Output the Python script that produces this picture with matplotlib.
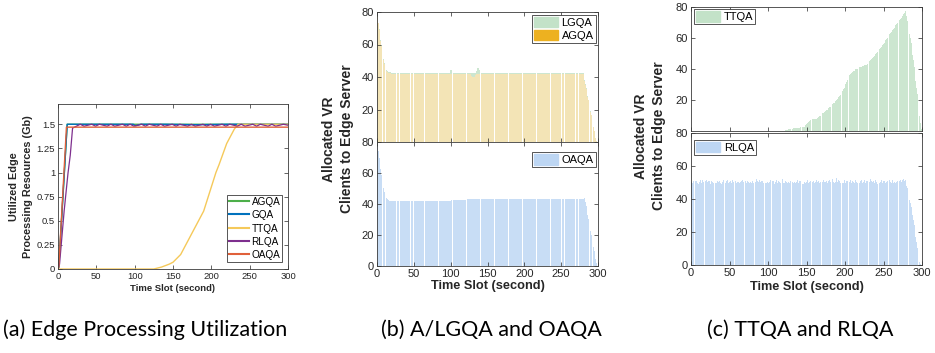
import numpy as np
import matplotlib
matplotlib.use("agg")
import matplotlib.pyplot as plt
from matplotlib.patches import Patch
from matplotlib.lines import Line2D

plt.rcParams["font.family"] = ["Liberation Sans", "DejaVu Sans"]

W, H = 935, 353
TXT = "#262626"
SPINE = "#3a3a3a"

# ---------------- panel (a): utilized edge processing resources ----------------
t_agqa_a = [0, 1, 12, 300]
v_agqa_a = [0, 0.02, 1.5, 1.5]

t_gqa_a = [0, 1, 12, 40, 80, 98, 101, 104, 108, 140, 180, 220, 260, 300]
v_gqa_a = [0, 0.02, 1.5, 1.5, 1.5, 1.5, 1.485, 1.49, 1.5, 1.5, 1.495, 1.5, 1.5, 1.5]

t_ttqa_a = [0, 125, 135, 145, 150, 160, 170, 180, 190, 200, 206, 210, 220, 230, 235, 300]
v_ttqa_a = [0, 0, 0.02, 0.05, 0.07, 0.15, 0.3, 0.45, 0.6, 0.85, 1.0, 1.08, 1.3, 1.45, 1.5, 1.5]

t_rlqa_a = [0, 2, 8, 13, 16, 19,
            24, 29, 34, 39, 44, 49, 54, 59, 64, 69, 74, 79, 84, 89, 94, 99,
            104, 109, 114, 119, 124, 129, 134, 139, 144, 149, 154, 159, 164, 169,
            174, 179, 184, 189, 194, 199, 204, 209, 214, 219, 224, 229, 234, 239,
            244, 249, 254, 259, 264, 269, 274, 279, 284, 289, 294, 300]
v_rlqa_a = [0, 0.05, 0.6, 0.99, 1.18, 1.46,
            1.48, 1.5, 1.48, 1.49, 1.5, 1.48, 1.5, 1.49, 1.48, 1.5, 1.48, 1.49, 1.5, 1.48, 1.5, 1.48,
            1.49, 1.5, 1.48, 1.5, 1.49, 1.48, 1.5, 1.48, 1.49, 1.5, 1.48, 1.5, 1.49, 1.48,
            1.5, 1.48, 1.49, 1.5, 1.48, 1.5, 1.48, 1.49, 1.5, 1.48, 1.5, 1.49, 1.48, 1.5,
            1.48, 1.49, 1.5, 1.48, 1.5, 1.49, 1.48, 1.5, 1.48, 1.49, 1.5, 1.49]

t_oaqa_a = [0, 1, 11, 300]
v_oaqa_a = [0, 0.02, 1.47, 1.47]

# ---------------- panels (b), (c): allocated clients per time slot ----------------
slots = np.arange(1, 301)

agqa_head = [77, 73, 69, 65, 62, 59, 56, 53, 50.5, 48, 46.5, 45, 44, 43.3, 42.8,
             42.5, 42.3, 42.2, 42.1, 42]
agqa_tail = [39.8, 37.4, 35.1, 32.6, 30.4, 28.0, 25.8, 23.3, 21.1, 18.6,
             16.4, 14.0, 11.6, 9.4, 7.0, 4.8, 2.4, 0.6, 0.0, 0.0]
agqa_vals = agqa_head + [42] * 107 + [40.5, 40, 39.8, 40, 40.2, 40.5, 41] + [42] * 146 + agqa_tail

lgqa_head = [77.5, 73.5, 69.5, 65.5, 62.5, 59.5, 56.5, 53.5, 51, 48.5, 47, 45.5, 44.5, 43.8, 43.3,
             43.1, 42.9, 42.8, 42.7, 42.7]
lgqa_tail = [40.4, 38.0, 35.6, 33.2, 30.8, 28.4, 26.0, 23.6, 21.2, 18.8,
             16.4, 14.0, 11.6, 9.2, 6.8, 4.4, 2.0, 0.5, 0.0, 0.0]
lgqa_vals = (lgqa_head + [42.7] * 78 + [43.5, 44.5, 44.6, 44.2, 43.4] + [42.7] * 31
             + [44.0, 45.5, 46.3, 45.8, 44.6, 43.3] + [42.7] * 140 + lgqa_tail)

oaqa_head = [78, 74, 70, 66, 62.5, 59, 56, 53, 50.5, 48, 46.5, 45, 44, 43.2, 42.7,
             42.4, 42.2, 42.1, 42, 42]
oaqa_tail = [41.0, 38.4, 35.8, 33.2, 30.6, 28.0, 25.4, 22.8, 20.2, 17.6,
             15.0, 12.4, 9.8, 7.2, 4.6, 2.0, 0.3, 0.0]
oaqa_vals = (oaqa_head + [42] * 80 + [42.6] * 20 + [43] * 25 + [43.4] * 20 + [43] * 35
             + [43.2] * 80 + [43.5, 43.7] + oaqa_tail)

ttqa_vals = [0] * 120 + [
    0.2, 0.3, 0.4, 0.5, 0.6, 0.8, 1.0, 1.1, 1.3, 1.4, 1.5, 1.6, 1.7, 1.8, 1.9, 2.0, 2.0, 2.1, 2.1, 2.2,
    2.2, 2.3, 2.3, 2.4, 2.5, 2.6, 2.8, 3.2, 3.8, 4.4, 5.0, 5.5, 6.0, 6.4, 6.8, 7.1, 7.3, 7.5, 7.6, 7.7,
    7.8, 7.9, 8.0, 8.3, 8.7, 9.1, 9.5, 10.0, 10.4, 10.8, 11.3, 11.7, 12.1, 12.6, 13.0, 13.3, 13.8, 14.3, 14.8, 15.3,
    15.8, 16.3, 16.8, 17.3, 17.8, 18.3, 18.8, 19.3, 19.8, 20.4, 21.0, 21.7, 22.4, 23.1, 23.8, 24.5, 25.6, 26.8, 28.0, 29.2,
    30.4, 31.6, 32.8, 34.0, 35.0, 35.9, 36.7, 37.4, 37.9, 38.3, 38.6, 39.0, 39.4, 39.7, 40.0, 40.3, 40.6, 40.8, 41.0, 41.3,
    41.5, 41.7, 41.9, 42.1, 42.3, 42.5, 42.7, 42.9, 43.4, 43.9, 44.4, 45.0, 45.6, 46.2, 46.8, 47.3, 47.7, 48.4, 49.0, 49.7,
    50.4, 51.0, 51.7, 52.4, 53.0, 53.7, 54.3, 55.0, 55.6, 56.3, 57.0, 57.8, 58.5, 59.2, 60.0, 60.8, 61.6, 62.4, 63.2, 64.0,
    64.8, 65.4, 66.0, 66.7, 67.4, 68.1, 68.8, 69.5, 70.2, 70.8, 71.4, 72.0, 72.8, 73.6, 74.4, 75.2, 76.0, 76.6, 77.2, 74.0,
    71.0, 68.0, 65.0, 62.5, 60.0, 56.5, 52.5, 49.0, 45.5, 41.5, 37.0, 32.5, 28.0, 24.0, 19.5, 14.5, 9.5, 5.0, 1.0, 0.0]

rlqa_vals = [
    50.5, 49.8, 51.2, 50.1, 49.5, 50.8, 51.0, 49.9, 50.3, 49.2, 50.6, 51.4, 50.0, 49.7, 51.6, 50.2, 51.1, 49.6, 50.9, 51.3,
    50.4, 49.9, 51.0, 50.7, 49.3, 50.5, 51.2, 50.1, 49.8, 50.6, 51.5, 50.0, 49.4, 50.8, 49.9, 50.3, 51.1, 49.6, 50.2, 49.0,
    50.6, 51.3, 49.8, 50.1, 49.5, 50.9, 51.7, 50.2, 49.7, 50.4, 51.2, 50.0, 49.6, 51.5, 50.3, 49.9, 50.7, 51.0, 49.4, 50.5,
    51.1, 50.2, 49.8, 50.6, 49.3, 50.9, 51.4, 50.1, 49.7, 50.3, 51.0, 49.5, 50.8, 51.9, 50.2, 49.6, 50.4, 51.2, 49.9, 50.7,
    50.0, 51.3, 49.6, 50.5, 52.0, 50.8, 49.7, 50.2, 51.6, 50.1, 49.4, 50.9, 51.1, 49.8, 50.3, 51.8, 50.0, 49.5, 50.6, 51.0,
    49.9, 50.4, 51.5, 50.2, 49.6, 50.8, 51.2, 49.3, 50.7, 50.1, 51.4, 49.8, 50.5, 51.0, 50.2, 49.7, 51.3, 50.6, 52.1, 50.0,
    49.5, 50.9, 51.2, 50.3, 49.8, 51.6, 50.1, 49.4, 50.7, 51.0, 52.3, 50.4, 49.9, 50.6, 51.3, 49.7, 50.2, 51.8, 50.5, 49.6,
    50.8, 51.1, 49.9, 50.3, 48.8, 49.2, 50.5, 51.0, 49.6, 50.2, 51.4, 50.7, 49.5, 50.1, 50.9, 49.8, 48.9, 50.4, 51.2, 50.0,
    49.7, 50.6, 51.3, 50.2, 49.5, 50.8, 49.9, 50.3, 51.0, 49.6, 50.5, 51.7, 50.1, 49.8, 50.6, 51.2, 50.0, 49.4, 50.9, 51.5,
    50.3, 49.7, 50.8, 52.4, 50.1, 49.6, 51.0, 50.5, 52.6, 50.2, 49.8, 51.3, 50.7, 49.5, 50.4, 51.1, 50.0, 49.9, 51.6, 50.3,
    49.6, 50.9, 51.2, 50.1, 49.7, 50.5, 51.4, 49.8, 50.3, 51.0, 50.6, 49.4, 50.8, 51.5, 50.2, 49.9, 50.4, 51.1, 49.6, 50.7,
    51.3, 50.0, 49.5, 50.6, 51.8, 50.2, 49.8, 50.9, 51.2, 50.1, 49.7, 50.4, 52.2, 50.8, 49.6, 50.3, 51.0, 49.9, 50.5, 51.4,
    50.1, 49.3, 50.7, 51.1, 49.8, 50.4, 51.6, 50.0, 49.5, 50.9, 51.2, 50.3, 49.7, 50.6, 51.0, 49.9, 50.2, 51.5, 50.1, 49.6,
    50.8, 51.3, 49.7, 50.4, 51.0, 49.8, 50.5, 51.2, 50.0, 49.6, 50.9, 51.4, 50.2, 49.8, 51.7, 52.3, 51.0, 52.8, 51.5, 48.0,
    46.5, 44.0, 41.2, 39.5, 37.3, 35.0, 32.6, 30.1, 27.0, 24.2, 20.5, 17.2, 14.0, 10.6, 7.2, 4.6, 2.1, 0.6, 0.0, 0.0]

xticks = [0, 50, 100, 150, 200, 250, 300]

C_GREEN_A = "#4DAF4A"
C_BLUE_A = "#0072BD"
C_YEL_A = "#F5C95A"
C_PURP_A = "#7E2F8E"
C_RED_A = "#E0603A"

C_AGQA = "#EDB120"
C_AGQA_BAR = "#F3E4B6"
C_LGQA = "#C3E2C8"
C_LGQA_BAR = "#CCE6D0"
C_BLUE = "#BDD6F3"
C_BLUE_BAR = "#C8DDF5"


def px_axes(fig, left, right, top, bottom):
    return fig.add_axes([left / W, 1 - bottom / H, (right - left) / W, (bottom - top) / H])


def style(ax, fs):
    ax.tick_params(direction="in", top=True, right=True, length=3, width=0.5,
                   labelsize=fs, colors=TXT, pad=2)
    for s in ax.spines.values():
        s.set_color(SPINE)
        s.set_linewidth(0.6)
    ax.set_xlim(0, 300)
    ax.set_xticks(xticks)


def legend(ax, handles, labels, anchor, loc, fs, hl, spacing=0.15):
    lg = ax.legend(handles, labels, loc=loc, bbox_to_anchor=anchor, fontsize=fs,
                   frameon=True, fancybox=False, framealpha=1, edgecolor=SPINE,
                   handlelength=hl, handleheight=1.1, handletextpad=0.3,
                   borderpad=0.2, labelspacing=spacing, borderaxespad=0)
    lg.get_frame().set_linewidth(0.6)
    for t in lg.get_texts():
        t.set_color("black")
    return lg


def bars(ax, vals, color):
    ax.bar(slots, vals, width=0.9, color=color, edgecolor="none", linewidth=0)


fig = plt.figure(figsize=(W / 100, H / 100), dpi=100)

# ---- (a)
ax = px_axes(fig, 58, 288, 104, 269)
ax.plot(t_agqa_a, v_agqa_a, color=C_GREEN_A, lw=1.0)
ax.plot(t_gqa_a, v_gqa_a, color=C_BLUE_A, lw=1.0)
ax.plot(t_ttqa_a, v_ttqa_a, color=C_YEL_A, lw=1.0)
ax.plot(t_rlqa_a, v_rlqa_a, color=C_PURP_A, lw=0.9)
ax.plot(t_oaqa_a, v_oaqa_a, color=C_RED_A, lw=1.0)
style(ax, 6.8)
ax.set_ylim(0, 1.71)
ax.set_yticks([0, 0.25, 0.5, 0.75, 1, 1.25, 1.5])
ax.set_yticklabels(["0", "0.25", "0.5", "0.75", "1", "1.25", "1.5"])
ax.set_ylabel("Utilized Edge\nProcessing Resources (Gb)", fontsize=7.8, fontweight="bold",
              color=TXT, labelpad=3, linespacing=1.45)
ax.set_xlabel("Time Slot (second)", fontsize=6.8, fontweight="bold", color=TXT, labelpad=2)
hs = [Line2D([], [], color=c, lw=1.5) for c in (C_GREEN_A, C_BLUE_A, C_YEL_A, C_PURP_A, C_RED_A)]
legend(ax, hs, ["AGQA", "GQA", "TTQA", "RLQA", "OAQA"], (0.975, 0.04), "lower right", 7.2, 2.0,
       spacing=0.32)

# ---- (b)
axt = px_axes(fig, 377, 598, 12, 142)
axb = px_axes(fig, 377, 598, 142, 266)
bars(axt, lgqa_vals, C_LGQA_BAR)
bars(axt, agqa_vals, C_AGQA_BAR)
bars(axb, oaqa_vals, C_BLUE_BAR)
for a in (axt, axb):
    style(a, 8)
    a.set_ylim(0, 80)
axt.set_yticks([20, 40, 60, 80])
axt.set_xticklabels([])
axb.set_yticks([0, 20, 40, 60, 80])
axb.set_xlabel("Time Slot (second)", fontsize=9.2, fontweight="bold", color=TXT, labelpad=1)
legend(axt, [Patch(color=C_LGQA), Patch(color=C_AGQA)], ["LGQA", "AGQA"],
       (0.99, 0.98), "upper right", 8, 2.2)
legend(axb, [Patch(color=C_BLUE)], ["OAQA"], (0.99, 0.92), "upper right", 8, 2.2)
fig.text(338 / W, 1 - 139 / H, "Allocated VR\nClients to Edge Server", rotation=90,
         ha="center", va="center", fontsize=10, fontweight="bold", color=TXT, linespacing=1.3)

# ---- (c)
axt = px_axes(fig, 691, 922, 7, 131)
axb = px_axes(fig, 691, 922, 133, 265)
bars(axt, ttqa_vals, C_LGQA_BAR)
bars(axb, rlqa_vals, C_BLUE_BAR)
for a in (axt, axb):
    style(a, 8)
    a.set_ylim(0, 80)
axt.set_yticks([20, 40, 60, 80])
axt.set_xticklabels([])
axb.set_yticks([0, 20, 40, 60, 80])
axb.set_xlabel("Time Slot (second)", fontsize=9.2, fontweight="bold", color=TXT, labelpad=2.5)
legend(axt, [Patch(color=C_LGQA)], ["TTQA"], (0.012, 0.985), "upper left", 8, 2.2)
legend(axb, [Patch(color=C_BLUE)], ["RLQA"], (0.012, 0.95), "upper left", 8, 2.2)
fig.text(650 / W, 1 - 136 / H, "Allocated VR\nClients to Edge Server", rotation=90,
         ha="center", va="center", fontsize=10, fontweight="bold", color=TXT, linespacing=1.3)

# ---- captions
cap = dict(fontsize=15.5, family=["Lato", "DejaVu Sans"], color="black", ha="center", va="center")
fig.text(145 / W, 1 - 330 / H, "(a) Edge Processing Utilization", **cap)
fig.text(491 / W, 1 - 330 / H, "(b) A/LGQA and OAQA", **cap)
fig.text(800 / W, 1 - 330 / H, "(c) TTQA and RLQA", **cap)

fig.savefig("out.png", dpi=100)
